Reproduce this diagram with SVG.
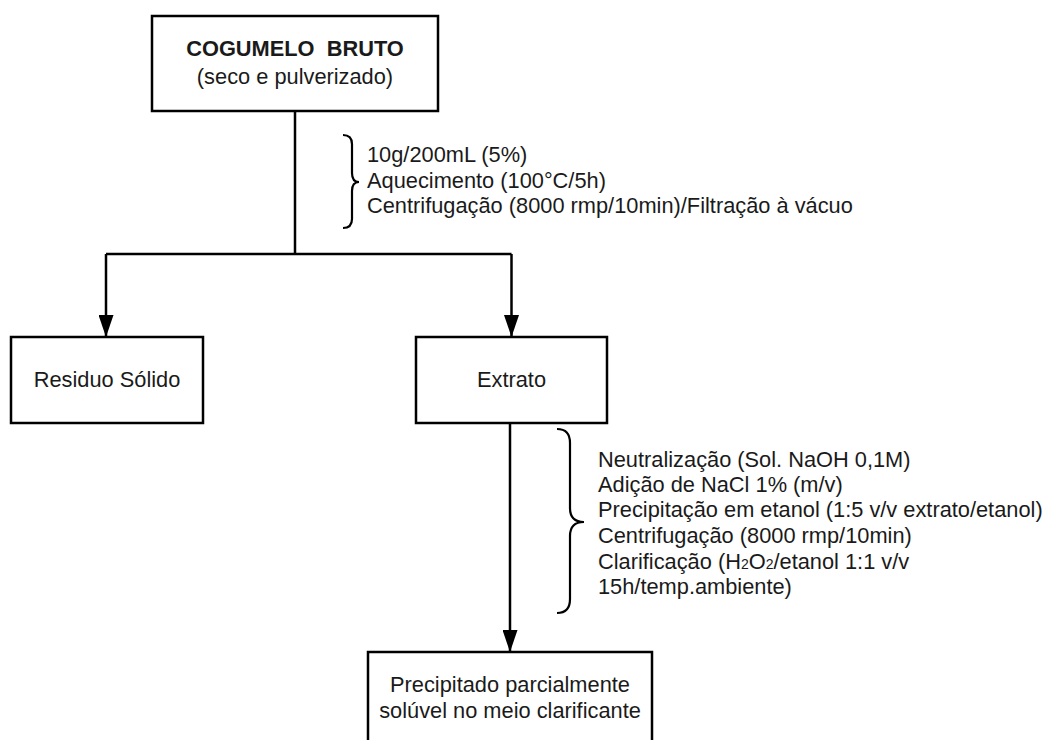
<svg xmlns="http://www.w3.org/2000/svg" width="1045" height="740" viewBox="0 0 1045 740">
<style>
.box{fill:#fff;stroke:#000;stroke-width:2.5}
.t{font-family:"Liberation Sans",Arial,sans-serif;font-size:21.8px;fill:#1a1a1a}
.c{text-anchor:middle}
.b{font-weight:bold}
.ln{fill:none;stroke:#000;stroke-width:2.5}
.br{fill:none;stroke:#000;stroke-width:2.2}
</style>
<defs>
<marker id="ah" markerUnits="userSpaceOnUse" markerWidth="23" markerHeight="15" refX="22" refY="7.5" viewBox="0 0 23 15" orient="auto">
<path d="M0,0 L22,7.5 L0,15 Z" fill="#000"/>
</marker>
</defs>
<rect width="1045" height="740" fill="#fff"/>
<g id="connectors">
<path class="ln" d="M295,111 V254 M106,254 H511.5"/>
<path class="ln" d="M106,254 V337" marker-end="url(#ah)"/>
<path class="ln" d="M511.5,254 V337" marker-end="url(#ah)"/>
<path class="ln" d="M510,423 V652" marker-end="url(#ah)"/>
</g>
<g id="node-cogumelo">
<rect class="box" x="152" y="16" width="286" height="95"/>
<text class="t c b" x="295" y="56" xml:space="preserve">COGUMELO  BRUTO</text>
<text class="t c" x="295" y="84">(seco e pulverizado)</text>
</g>
<g id="note-1">
<path class="br" d="M343,135 Q352,135 352,144 L352,173 Q352,182 359,182 Q352,182 352,191 L352,219 Q352,228 343,228"/>
<text class="t" x="367" y="162">10g/200mL (5%)</text>
<text class="t" x="367" y="188">Aquecimento (100°C/5h)</text>
<text class="t" x="367" y="213">Centrifugação (8000 rmp/10min)/Filtração à vácuo</text>
</g>
<g id="node-residuo">
<rect class="box" x="11" y="337" width="192" height="86"/>
<text class="t c" x="107" y="387">Residuo Sólido</text>
</g>
<g id="node-extrato">
<rect class="box" x="416" y="337" width="191" height="86"/>
<text class="t c" x="511.5" y="387">Extrato</text>
</g>
<g id="note-2">
<path class="br" d="M557,429 Q570,429 570,443 L570,508 Q570,522 584,522 Q570,522 570,536 L570,599 Q570,613 557,613"/>
<text class="t" x="598" y="467">Neutralização (Sol. NaOH 0,1M)</text>
<text class="t" x="598" y="492">Adição de NaCl 1% (m/v)</text>
<text class="t" x="598" y="517">Precipitação em etanol (1:5 v/v extrato/etanol)</text>
<text class="t" x="598" y="543">Centrifugação (8000 rmp/10min)</text>
<text class="t" x="598" y="569">Clarificação (H<tspan font-size="14">2</tspan>O<tspan font-size="14">2</tspan>/etanol 1:1 v/v</text>
<text class="t" x="598" y="594">15h/temp.ambiente)</text>
</g>
<g id="node-precipitado">
<rect class="box" x="368" y="652" width="284" height="100"/>
<text class="t c" x="510" y="692">Precipitado parcialmente</text>
<text class="t c" x="510" y="718">solúvel no meio clarificante</text>
</g>
</svg>
